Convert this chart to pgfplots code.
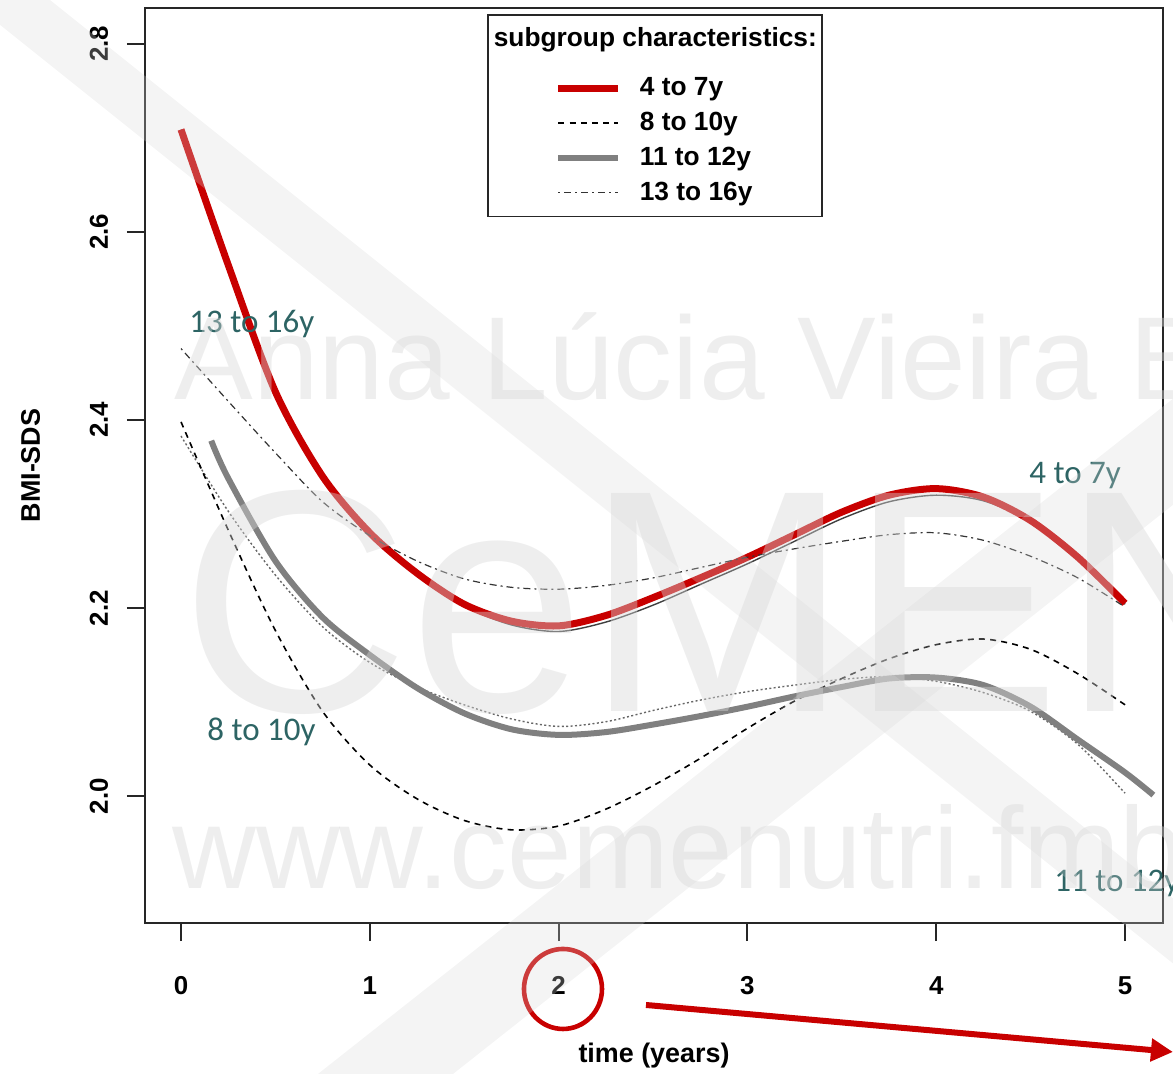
\documentclass[border=0pt]{standalone}
\usepackage{fontspec}
\setmainfont{Liberation Sans}
\newfontfamily\annfont{Carlito}
\usepackage{pgfplots}
\usepackage{pgfplotstable}
\pgfplotsset{compat=1.18}
\usetikzlibrary{arrows.meta}
\definecolor{cred}{RGB}{200,0,0}
\definecolor{cgray}{RGB}{128,128,128}
\definecolor{cteal}{RGB}{45,100,100}
\definecolor{wm}{RGB}{215,215,215}

\pgfplotstableread{
x y
0 2.709
0.25 2.565
0.5 2.430
0.75 2.340
1.0 2.280
1.25 2.237
1.5 2.204
1.75 2.186
2.0 2.181
2.25 2.192
2.5 2.211
2.75 2.232
3.0 2.254
3.25 2.278
3.5 2.302
3.75 2.320
4.0 2.327
4.25 2.318
4.5 2.293
4.75 2.254
5.0 2.205
}\redtab

\pgfplotstableread{
x y
0 2.709
0.25 2.565
0.5 2.430
0.75 2.340
1.0 2.280
1.25 2.236
1.5 2.202
1.75 2.182
2.0 2.175
2.25 2.185
2.5 2.203
2.75 2.225
3.0 2.247
3.25 2.271
3.5 2.295
3.75 2.313
4.0 2.320
4.25 2.314
4.5 2.292
4.75 2.254
5.0 2.204
}\thintab

\pgfplotstableread{
x y
0 2.398
0.25 2.283
0.5 2.176
0.75 2.090
1.0 2.033
1.25 1.997
1.5 1.974
1.75 1.964
2.0 1.968
2.25 1.986
2.5 2.011
2.75 2.040
3.0 2.072
3.25 2.101
3.5 2.125
3.75 2.146
4.0 2.161
4.25 2.167
4.5 2.156
4.75 2.130
5.0 2.097
}\dashtab

\pgfplotstableread{
x y
0.16 2.378
0.25 2.338
0.5 2.250
0.75 2.190
1.0 2.150
1.25 2.115
1.5 2.088
1.75 2.071
2.0 2.065
2.25 2.068
2.5 2.076
2.75 2.085
3.0 2.095
3.25 2.106
3.5 2.116
3.75 2.125
4.0 2.126
4.25 2.118
4.5 2.095
4.75 2.060
5.0 2.025
5.15 2.001
}\graytab

\pgfplotstableread{
x y
0 2.383
0.25 2.303
0.5 2.235
0.75 2.180
1.0 2.142
1.25 2.116
1.5 2.097
1.75 2.082
2.0 2.074
2.25 2.079
2.5 2.091
2.75 2.102
3.0 2.111
3.25 2.118
3.5 2.124
3.75 2.127
4.0 2.122
4.25 2.110
4.5 2.090
4.75 2.055
5.0 2.003
}\dottab

\pgfplotstableread{
x y
0 2.476
0.25 2.420
0.5 2.365
0.75 2.313
1.0 2.277
1.25 2.250
1.5 2.231
1.75 2.222
2.0 2.220
2.25 2.224
2.5 2.232
2.75 2.243
3.0 2.254
3.25 2.263
3.5 2.271
3.75 2.278
4.0 2.280
4.25 2.272
4.5 2.255
4.75 2.232
5.0 2.201
}\ddtab

\begin{document}
\begin{tikzpicture}
\path[use as bounding box] (-72.5bp,-75.5bp) rectangle (514bp,461.5bp);
\begin{axis}[
  at={(0,0)}, anchor=south west,
  scale only axis, width=509bp, height=457.5bp,
  xmin=-0.1907, xmax=5.201, ymin=1.8649, ymax=2.8383,
  axis line style={black!85, line width=1bp},
  tick align=outside, major tick length=9bp,
  tick style={black!85, line width=1bp},
  xtick={0,1,2,3,4,5}, xticklabels={0,1,2,3,4,5},
  ytick={2,2.2,2.4,2.6,2.8}, yticklabels={2.0,2.2,2.4,2.6,2.8},
  xtick pos=bottom, ytick pos=left,
  ticklabel style={font=\fontsize{13}{15}\selectfont\bfseries},
  yticklabel style={rotate=90, anchor=base, inner sep=0pt},
  xticklabel style={anchor=base, inner sep=0pt},
  yticklabel shift=9.5bp,
  xticklabel shift=26.5bp,
  xlabel={time (years)}, ylabel={BMI-SDS},
  label style={font=\fontsize{13.5}{16}\selectfont\bfseries},
  xlabel style={at={([yshift=-69.5bp]axis description cs:0.5,0)}, anchor=base, inner sep=0pt},
  ylabel style={at={([xshift=-52.5bp]axis description cs:0,0.5)}, anchor=base, inner sep=0pt},
  legend style={at={(rel axis cs:0.336,0.9934)}, anchor=north west,
    draw=black!85, line width=0.8bp, inner xsep=1.5bp, inner ysep=5.5bp,
    font=\fontsize{13.2}{16}\selectfont\bfseries, row sep=4.75bp,
    nodes={inner sep=1bp}},
  legend cell align=left,
  legend image code/.code={\path (-32bp,0bp) (38bp,0bp); \draw[#1] (0bp,0bp) -- (30bp,0bp);},
]
\addlegendimage{empty legend}
\addlegendentry{\hspace*{-73bp}subgroup characteristics:}
\addlegendimage{empty legend}
\addlegendentry[inner sep=0pt]{\rule{0pt}{1bp}}
\addplot[black!75, line width=0.7bp, smooth, forget plot] table {\thintab};
\addplot[black!60, line width=0.7bp, dash pattern=on 1bp off 1.2bp, smooth, forget plot] table {\dottab};
\addplot[cred, line width=3.5bp, smooth] table {\redtab};
\addlegendentry{4 to 7y}
\addplot[black, line width=0.8bp, dash pattern=on 3bp off 2.6bp, smooth] table {\dashtab};
\addlegendentry{8 to 10y}
\addplot[cgray, line width=3bp, smooth] table {\graytab};
\addlegendentry{11 to 12y}
\addplot[black!80, line width=0.6bp, dash pattern=on 1bp off 2bp on 3.5bp off 2bp, smooth] table {\ddtab};
\addlegendentry{13 to 16y}
\end{axis}
\begin{scope}[x=0.5bp, y=-0.5bp, shift={(-72.5bp,461.5bp)}]
  \clip (0,0) rectangle (1173,1074);
  \node[anchor=base west, inner sep=0pt, text=cteal, font=\annfont\fontsize{16.5bp}{18bp}\selectfont] at (189,333) {13 to 16y};
  \node[anchor=base west, inner sep=0pt, text=cteal, font=\annfont\fontsize{16.5bp}{18bp}\selectfont] at (207,741) {8 to 10y};
  \node[anchor=base west, inner sep=0pt, text=cteal, font=\annfont\fontsize{16.5bp}{18bp}\selectfont] at (1029,484) {4 to 7y};
  \node[anchor=base west, inner sep=0pt, text=cteal, font=\annfont\fontsize{16.5bp}{18bp}\selectfont] at (1054,892) {11 to 12y};
  \draw[cred, line width=2.3bp] (563,989) ellipse [x radius=39, y radius=40];
  \draw[cred, line width=3bp, -{Triangle[length=11bp,width=11bp]}] (646,1005) -- (1173,1052);
  % watermark
  \fill[wm, opacity=0.28] (-31,0) -- (50,0) -- (1250,960) -- (1250,1025) -- cycle;
  \fill[wm, opacity=0.28] (318,1074) -- (453,1074) -- (1250,444) -- (1250,338) -- cycle;
  \node[anchor=base west, inner sep=0pt, text=wm, opacity=0.42, font=\fontsize{59bp}{60bp}\selectfont] at (174,400) {Anna Lúcia Vieira Bertoni};
  \node[anchor=base west, inner sep=0pt, text=wm, opacity=0.42, font=\fontsize{158.5bp}{160bp}\selectfont] at (180,712) {CeMEN};
  \node[anchor=base west, inner sep=0pt, text=wm, opacity=0.42, font=\fontsize{58bp}{60bp}\selectfont] at (172,889) {www.cemenutri.fmb.unesp.br};
\end{scope}
\end{tikzpicture}
\end{document}
